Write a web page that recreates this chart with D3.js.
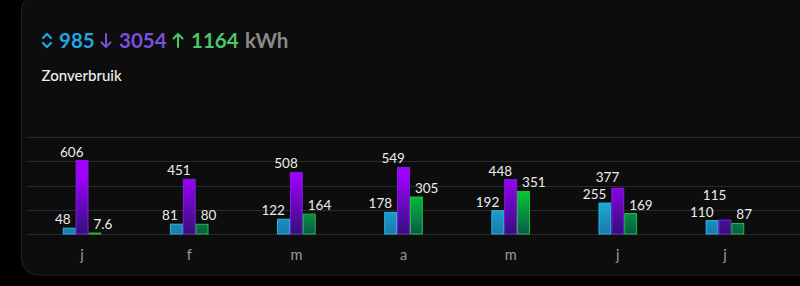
<!DOCTYPE html>
<html>
<head>
<meta charset="utf-8">
<script src="https://cdn.jsdelivr.net/npm/d3@7"></script>
<style>
  html, body { margin: 0; padding: 0; background: #000; }
  svg { display: block; font-family: Lato, "Noto Sans", sans-serif; }
</style>
</head>
<body>
<svg width="800" height="286"></svg>
<script>
var months = ["j", "f", "m", "a", "m", "j", "j"];
var zelf = [48, 81, 122, 178, 192, 255, 110];
var afname = [606, 451, 508, 549, 448, 377, 115];
var teruglevering = [7.6, 80, 164, 305, 351, 169, 87];
var yTicks = [0, 200, 400, 600, 800];
var totals = ["985", "3054", "1164"];

var svg = d3.select("svg"),
  width = +svg.attr("width"),
  height = +svg.attr("height");

// card
svg.append("rect")
  .attr("x", 21.5).attr("y", -6)
  .attr("width", 820).attr("height", 281)
  .attr("rx", 16)
  .attr("fill", "#0d0d0d")
  .attr("stroke", "#222")
  .attr("stroke-width", 1);

var series = [
  { key: "zelf", values: zelf, top: "#24d0ff", bottom: "#1a7aa6", stroke: "#22b8f0" },
  { key: "afname", values: afname, top: "#a000ff", bottom: "#32107a", stroke: "#7f1fe2" },
  { key: "terug", values: teruglevering, top: "#00f030", bottom: "#0b5a4a", stroke: "#1fc040" }
];

var x = d3.scaleBand().domain(d3.range(months.length)).range([28.5, 778.5]);
var x1 = d3.scaleBand().domain(d3.range(series.length)).range([-19.3, 19.3]);
var y = d3.scaleLinear().domain([0, 800]).range([234, 137]);

var defs = svg.append("defs");
series.forEach(function(s) {
  var g = defs.append("linearGradient")
    .attr("id", "grad-" + s.key)
    .attr("gradientUnits", "userSpaceOnUse")
    .attr("x1", 0).attr("x2", 0)
    .attr("y1", y(0)).attr("y2", y(480));
  g.append("stop").attr("offset", "0%").attr("stop-color", s.bottom);
  g.append("stop").attr("offset", "100%").attr("stop-color", s.top);
});

// grid
svg.append("g").selectAll("line")
  .data(yTicks)
  .enter().append("line")
  .attr("x1", 27).attr("x2", width)
  .attr("y1", function(d) { return Math.round(y(d)) + 0.5; })
  .attr("y2", function(d) { return Math.round(y(d)) + 0.5; })
  .attr("stroke", "#2b2b2b")
  .attr("stroke-width", 1);

// bars
var groups = svg.append("g").selectAll("g")
  .data(months)
  .enter().append("g")
  .attr("transform", function(d, i) { return "translate(" + (x(i) + x.bandwidth() / 2) + ",0)"; });

series.forEach(function(s, si) {
  groups.append("rect")
    .attr("x", x1(si) + 0.5)
    .attr("width", x1.bandwidth() - 1)
    .attr("y", function(d, i) { return y(s.values[i]); })
    .attr("height", function(d, i) { return y(0) - y(s.values[i]); })
    .attr("fill", "url(#grad-" + s.key + ")")
    .attr("stroke", s.stroke)
    .attr("stroke-width", 1);
});

series.forEach(function(s, si) {
  groups.append("text")
    .attr("class", "lbl lbl" + si)
    .attr("x", si === 2 ? x1(si) + 5 : x1(si) + x1.bandwidth() - 5)
    .attr("y", function(d, i) { return y(s.values[i]) - 4; })
    .attr("text-anchor", si === 2 ? "start" : "end")
    .attr("fill", "#ececec")
    .attr("font-size", 13.5)
    .text(function(d, i) { return s.values[i]; });
});

// push a label up when it collides with the one before it
groups.each(function() {
  var labels = d3.select(this).selectAll(".lbl").nodes();
  for (var k = 1; k < labels.length; k++) {
    var a = labels[k - 1].getBBox(), b = labels[k].getBBox();
    var hit = a.x < b.x + b.width && b.x < a.x + a.width && a.y < b.y + b.height && b.y < a.y + a.height;
    if (hit) {
      var yy = +d3.select(labels[k]).attr("y");
      d3.select(labels[k]).attr("y", yy - (b.y + b.height - a.y) - 1);
    }
  }
});

// x labels
groups.append("text")
  .attr("y", 260)
  .attr("text-anchor", "middle")
  .attr("fill", "#9a9a9a")
  .attr("font-size", 14.5)
  .text(function(d) { return d; });

// header
var head = svg.append("g");
// up-down chevron icon
head.append("path")
  .attr("d", "M43,38 L47,34 L51,38 M43,43 L47,47 L51,43")
  .attr("fill", "none").attr("stroke", "#1ea7e4").attr("stroke-width", 2.2)
  .attr("stroke-linecap", "round").attr("stroke-linejoin", "round");
head.append("text").attr("x", 59).attr("y", 48)
  .attr("font-size", 20.5).attr("font-weight", 700).attr("fill", "#1ea7e4").text(totals[0]);
// down arrow
head.append("path")
  .attr("d", "M106,34 L106,47 M101.5,42.5 L106,47 L110.5,42.5")
  .attr("fill", "none").attr("stroke", "#7b4fdc").attr("stroke-width", 2)
  .attr("stroke-linecap", "round").attr("stroke-linejoin", "round");
head.append("text").attr("x", 119).attr("y", 48)
  .attr("font-size", 20.5).attr("font-weight", 700).attr("fill", "#7b4fdc").text(totals[1]);
// up arrow
head.append("path")
  .attr("d", "M178,47 L178,34 M173.5,38.5 L178,34 L182.5,38.5")
  .attr("fill", "none").attr("stroke", "#4cc66a").attr("stroke-width", 2)
  .attr("stroke-linecap", "round").attr("stroke-linejoin", "round");
head.append("text").attr("x", 191).attr("y", 48)
  .attr("font-size", 20.5).attr("font-weight", 700).attr("fill", "#4cc66a").text(totals[2]);
head.append("text").attr("x", 245).attr("y", 48)
  .attr("font-size", 20.5).attr("font-weight", 700).attr("fill", "#8a8a8a").text("kWh");

svg.append("text").attr("x", 41.5).attr("y", 80.5)
  .attr("font-size", 15).attr("font-weight", 500).attr("fill", "#f0f0f0")
  .text("Zonverbruik");
</script>
</body>
</html>
